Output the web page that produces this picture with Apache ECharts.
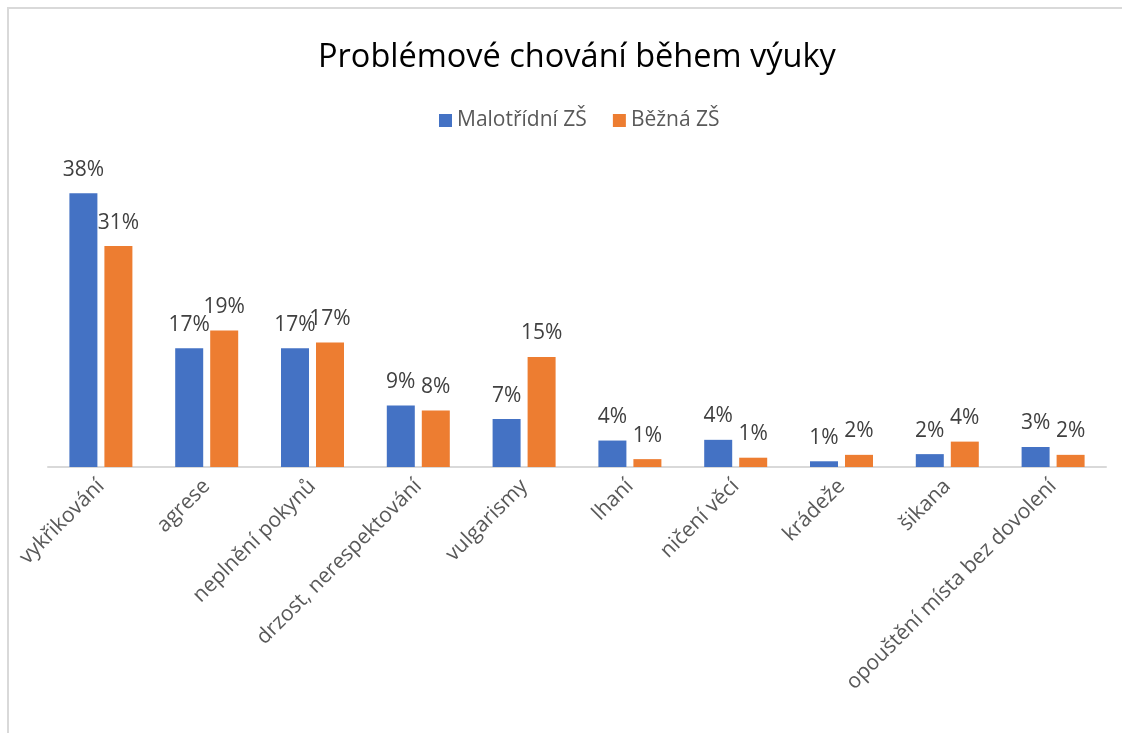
<!DOCTYPE html>
<html>
<head>
<meta charset="utf-8">
<script src="https://cdn.jsdelivr.net/npm/echarts@6/dist/echarts.min.js"></script>
<style>
html, body { margin: 0; padding: 0; background: #fff; }
#main { width: 1122px; height: 733px; }
</style>
</head>
<body>
<div id="main"></div>
<script>
var categories = ['vykřikování', 'agrese', 'neplnění pokynů', 'drzost, nerespektování', 'vulgarismy',
	'lhaní', 'ničení věcí', 'krádeže', 'šikana', 'opouštění místa bez dovolení'];
// podíly v procentech
var malotridni = [38.3, 16.6, 16.6, 8.6, 6.7, 3.7, 3.8, 0.8, 1.8, 2.8];
var bezna = [30.9, 19.1, 17.4, 7.9, 15.4, 1.1, 1.3, 1.7, 3.55, 1.7];

var myChart = echarts.init(document.getElementById('main'));

var labelStyle = {
	show: true,
	position: 'top',
	distance: 13,
	fontFamily: 'Open Sans',
	fontSize: 21,
	color: '#404040',
	formatter: function(p) {
		return Math.round(p.value) + '%';
	}
};

myChart.setOption({
	animation: false,
	title: {
		text: 'Problémové chování během výuky',
		left: 313,
		top: 36,
		textStyle: {
			fontFamily: 'Open Sans',
			fontWeight: 'normal',
			fontSize: 32.5,
			color: '#000'
		}
	},

	legend: {
		top: 105,
		left: 434,
		itemWidth: 13,
		itemHeight: 13,
		itemGap: 26,
		icon: 'rect',
		textStyle: {
			fontFamily: 'Open Sans',
			fontSize: 21,
			color: '#595959'
		},
		data: ['Malotřídní ZŠ', 'Běžná ZŠ']
	},

	grid: {
		left: 48,
		right: 16,
		top: 181,
		bottom: 266
	},

	xAxis: {
		type: 'category',
		data: categories,
		axisTick: { show: false },
		axisLine: { lineStyle: { color: '#D9D9D9', width: 2 } },
		axisLabel: {
			interval: 0,
			rotate: 45,
			margin: 16,
			fontFamily: 'Open Sans',
			fontSize: 21,
			color: '#595959'
		}
	},

	yAxis: {
		type: 'value',
		min: 0,
		max: 40,
		show: false,
		splitLine: { show: false }
	},

	series: [
		{
			name: 'Malotřídní ZŠ',
			type: 'bar',
			barWidth: 28,
			barGap: '25%',
			itemStyle: { color: '#4472C4' },
			label: labelStyle,
			data: malotridni
		},
		{
			name: 'Běžná ZŠ',
			type: 'bar',
			barWidth: 28,
			barGap: '25%',
			itemStyle: { color: '#ED7D31' },
			label: labelStyle,
			data: bezna
		}
	],

	graphic: [
		{
			type: 'polyline',
			shape: { points: [[8, 733], [8, 8], [1122, 8]] },
			style: { stroke: '#D9D9D9', lineWidth: 2, fill: null }
		}
	]
});
</script>
</body>
</html>
